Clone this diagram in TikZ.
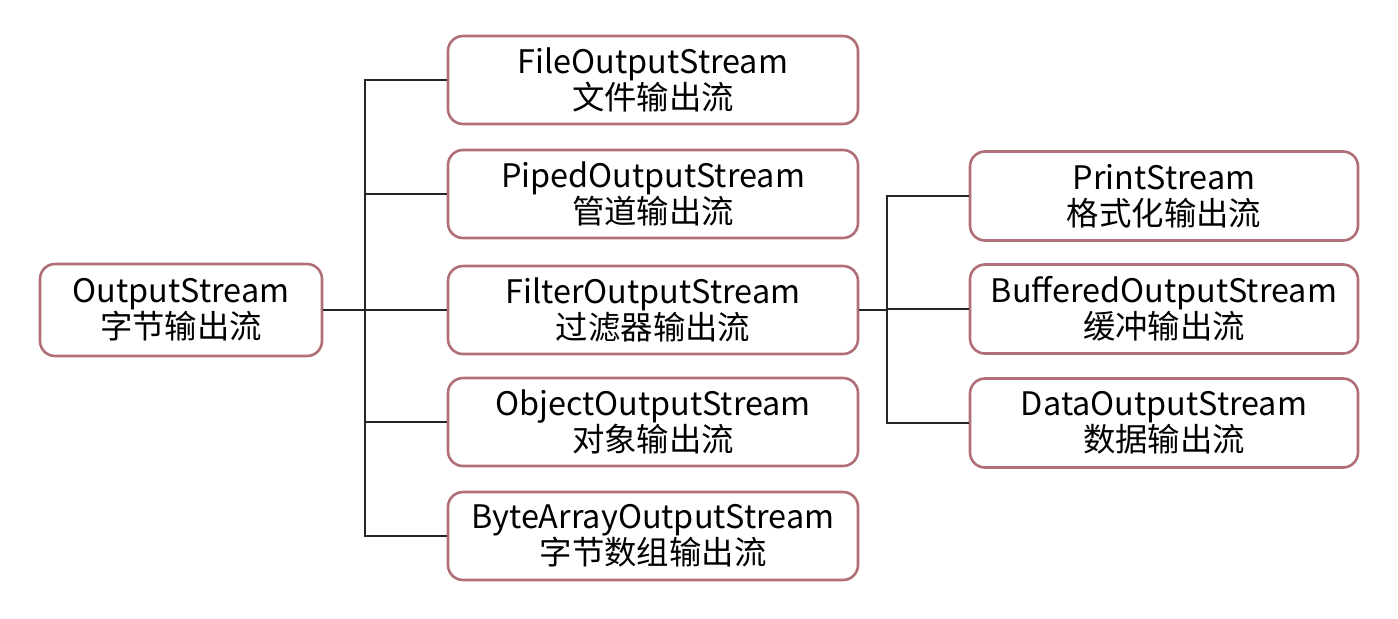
\documentclass[tikz,border=0pt]{standalone}
\usepackage{fontspec}
\newfontfamily\cjk{Noto Sans CJK SC}
\definecolor{boxrose}{RGB}{176,110,118}
\begin{document}
\begin{tikzpicture}[x=0.5pt,y=-0.5pt,
  streambox/.style={draw=boxrose,line width=1.3pt,rounded corners=7.5pt,fill=white,
    align=center,inner sep=0pt,font=\cjk\fontsize{16.2}{18}\selectfont},
  rootbox/.style={streambox,minimum width=141pt,minimum height=46pt},
  midbox/.style={streambox,minimum width=205pt,minimum height=44pt},
  subbox/.style={streambox,minimum width=194pt,minimum height=44.5pt},
  link/.style={line width=0.7pt,black!85}]
 \useasboundingbox (0,0) rectangle (1398,618);
 % base class
 \node[rootbox] (out) at (181,310) {OutputStream\\字节输出流};
 % direct subclasses
 \node[midbox] (file) at (653,80) {FileOutputStream\\文件输出流};
 \node[midbox] (piped) at (653,194) {PipedOutputStream\\管道输出流};
 \node[midbox] (filter) at (653,310) {FilterOutputStream\\过滤器输出流};
 \node[midbox] (object) at (653,422) {ObjectOutputStream\\对象输出流};
 \node[midbox] (bytes) at (653,536) {ByteArrayOutputStream\\字节数组输出流};
 % filter subclasses
 \node[subbox] (print) at (1164,196) {PrintStream\\格式化输出流};
 \node[subbox] (buffered) at (1164,309) {BufferedOutputStream\\缓冲输出流};
 \node[subbox] (data) at (1164,423) {DataOutputStream\\数据输出流};
 % tree lines
 \coordinate (trunk) at (365,310);
 \coordinate (ftrunk) at (887,310);
 \draw[link] (out.east) -- (trunk);
 \foreach \n in {file,piped,filter,object,bytes}
  \draw[link] (trunk) |- (\n.west);
 \draw[link] (filter.east) -- (ftrunk);
 \foreach \n in {print,buffered,data}
  \draw[link] (ftrunk) |- (\n.west);
\end{tikzpicture}
\end{document}
